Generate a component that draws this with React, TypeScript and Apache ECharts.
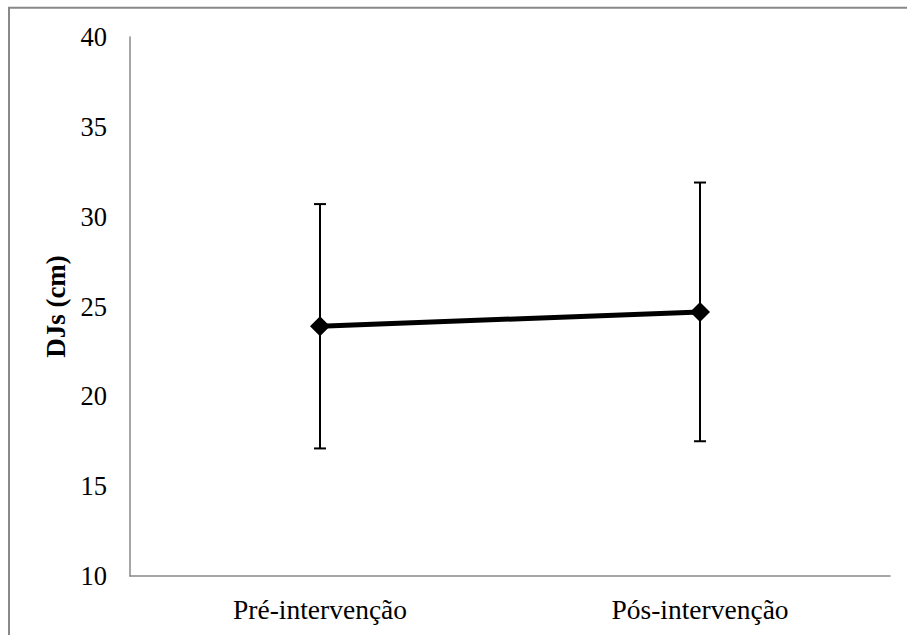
import React, { useEffect, useRef } from "react";
import * as echarts from "echarts";

const categories = ["Pré-intervenção", "Pós-intervenção"];
const means = [23.9, 24.7];
const lowerBounds = [17.1, 17.5];
const upperBounds = [30.7, 31.9];
const yTicks = { min: 10, max: 40, interval: 5 };
const yAxisTitle = "DJs (cm)";

export default function App() {
  const ref = useRef<HTMLDivElement>(null);
  useEffect(() => {
    if (!ref.current) return;
    const chart = echarts.init(ref.current, null, { renderer: "svg" });
    const font = "Liberation Serif";
    const errorData = categories.map((_, i) => [i, lowerBounds[i], upperBounds[i]]);
    chart.setOption({
      animation: false,
      backgroundColor: "#fff",
      graphic: [
        {
          type: "rect",
          shape: { x: 9, y: 7.7, width: 1000, height: 1000 },
          style: { fill: "none", stroke: "#888", lineWidth: 2 },
          silent: true,
          z: 100,
        },
      ],
      grid: { left: 130, top: 37, right: 17, bottom: 59 },
      xAxis: {
        type: "category",
        data: categories,
        boundaryGap: true,
        axisLine: { lineStyle: { color: "#888", width: 1.5 } },
        axisTick: { show: false },
        axisLabel: { color: "#000", fontFamily: font, fontSize: 27.5, margin: 19 },
        splitLine: { show: false },
      },
      yAxis: {
        type: "value",
        min: yTicks.min,
        max: yTicks.max,
        interval: yTicks.interval,
        name: yAxisTitle,
        nameLocation: "middle",
        nameGap: 53,
        nameRotate: 90,
        nameTextStyle: { color: "#000", fontFamily: font, fontSize: 27, fontWeight: "bold" },
        axisLine: { show: true, lineStyle: { color: "#888", width: 1.5 } },
        axisTick: { show: false },
        axisLabel: { color: "#000", fontFamily: font, fontSize: 26.5, margin: 23 },
        splitLine: { show: false },
      },
      series: [
        {
          type: "custom",
          data: errorData,
          z: 1,
          renderItem: (params: any, api: any) => {
            const x = api.value(0);
            const lo = api.coord([x, api.value(1)]);
            const hi = api.coord([x, api.value(2)]);
            const half = 6;
            const style = { stroke: "#000", lineWidth: 2 };
            return {
              type: "group",
              children: [
                { type: "line", shape: { x1: lo[0], y1: lo[1], x2: hi[0], y2: hi[1] }, style },
                { type: "line", shape: { x1: hi[0] - half, y1: hi[1], x2: hi[0] + half, y2: hi[1] }, style },
                { type: "line", shape: { x1: lo[0] - half, y1: lo[1], x2: lo[0] + half, y2: lo[1] }, style },
              ],
            };
          },
        },
        {
          type: "line",
          data: means,
          z: 3,
          symbol: "diamond",
          symbolSize: [20, 20],
          itemStyle: { color: "#000" },
          lineStyle: { color: "#000", width: 5 },
        },
      ],
    });
    return () => chart.dispose();
  }, []);
  return (
    <div
      ref={ref}
      style={{ position: "fixed", left: 0, top: 0, width: 907, height: 635 }}
    />
  );
}
